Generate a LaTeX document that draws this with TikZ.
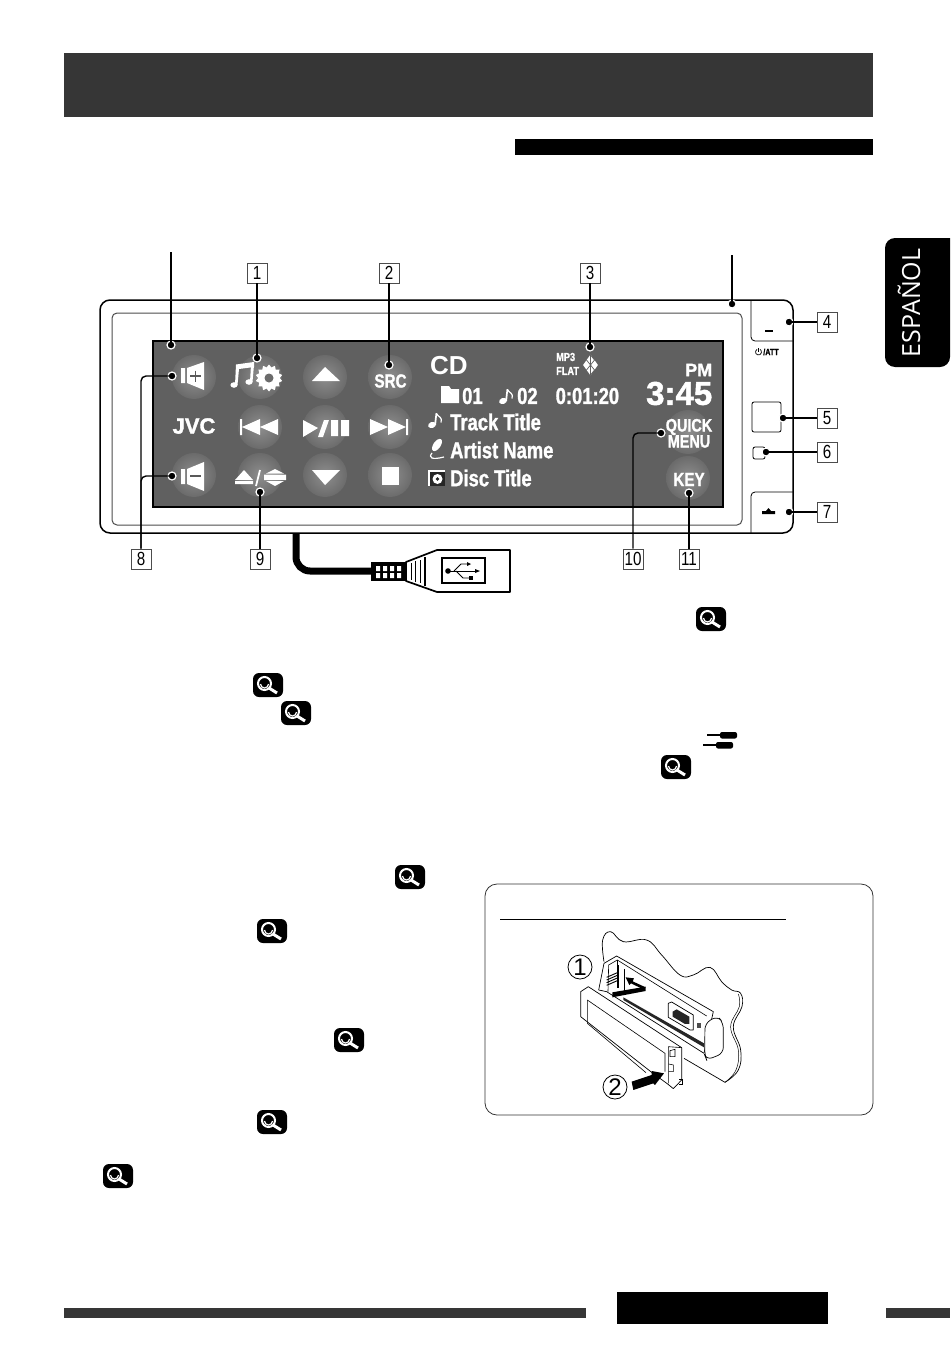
\documentclass[tikz,border=0pt]{standalone}
\usepackage{fontspec}
\setmainfont{Liberation Sans}
\newfontfamily\condfont[FakeStretch=0.8,BoldFeatures={FakeBold=1.2}]{Liberation Sans}
\newfontfamily\heavyfont[BoldFeatures={FakeBold=1.5}]{Liberation Sans}
\newfontfamily\tabfont{Open Sans}
\usetikzlibrary{shapes.misc,shapes.geometric,calc,positioning}
\definecolor{bandgray}{HTML}{363636}
\definecolor{screengray}{HTML}{606060}
\definecolor{btnlight}{HTML}{8E8E8E}
\definecolor{btndark}{HTML}{6B6B6B}
\tikzset{
  numbox/.style={draw=black!70,line width=.6pt,fill=white,minimum size=20pt,inner sep=0pt,font=\condfont\fontsize{19}{19}\selectfont},
  pindot/.style={circle,fill=black,draw=white,line width=1.2pt,minimum size=8pt,inner sep=0pt},
  leader/.style={line width=1.4pt,rounded corners=5pt},
  roundbtn/.style={circle,minimum size=44pt,inner sep=0pt,inner color=btnlight,outer color=btndark},
  screentext/.style={text=white,inner sep=0pt,anchor=west,font=\condfont\bfseries\fontsize{23}{23}\selectfont},
  btntext/.style={text=white,inner sep=0pt,font=\condfont\bfseries\fontsize{19}{19}\selectfont},
  lensicon/.style={fill=black,rounded corners=6pt,minimum width=30pt,minimum height=24pt,inner sep=0pt,
    path picture={
      \coordinate (lensmid) at (path picture bounding box.center);
      \draw [white,line width=3pt] ($(lensmid)+(1,3)$) -- ($(lensmid)+(9,8)$);
      \draw [white,line width=2pt,fill=black] ($(lensmid)+(-3.5,-1.5)$) circle (6.5pt);
      \draw [white,line width=1.2pt] ($(lensmid)+(-7.5,-1)$) arc (180:360:4pt);
    }},
  installbit/.style={line width=.7pt,line join=round,fill=white},
  noteicon/.pic={
    \fill [white,rotate around={20:(0,12)}] (0,12) ellipse (4pt and 3pt);
    \fill [white] (2.2,12) -- (3.6,0) -- (5.2,0) -- (4,12) -- cycle;
    \draw [white,line width=1.2pt] (4.4,0.5) .. controls (6,4) and (11,4) .. (9,9.5);
  },
}
\begin{document}
\begin{tikzpicture}[x=1pt,y=-1pt]
\useasboundingbox (0,0) rectangle (950,1351);
\fill [bandgray] (64,53) rectangle (873,117);
\fill [black] (515,139) rectangle (873,155);
\fill [black,rounded corners=10pt] (885,238) -- (885,367) -- (950,367) [sharp corners] -- (950,238) [rounded corners=10pt] -- cycle;
\node [rotate=90,text=white,inner sep=0pt,font=\tabfont\fontsize{25}{25}\selectfont] (tabText) at (909,303) {ESPAÑOL};
\fill [bandgray] (64,1308) rectangle (586,1318);
\fill [black] (617,1292) rectangle (828,1324);
\fill [bandgray] (886,1308) rectangle (950,1318);

\node [draw,line width=1.5pt,rounded corners=10pt,minimum width=693pt,minimum height=233pt,inner sep=0pt] (panel) at (446.5,416.5) {};
\node [draw=black!70,line width=1pt,rounded corners=5pt,minimum width=630pt,minimum height=212pt,inner sep=0pt] (bezel) at (427,419) {};
\node [draw=black,fill=screengray,line width=1.2pt,minimum width=570pt,minimum height=166pt,inner sep=0pt] (screen) at (438,424) {};
\draw [line width=.8pt,rounded corners=4pt] (751,300) -- (751,341) -- (793,341);
\draw [line width=.8pt,rounded corners=4pt] (793,492) -- (751,492) -- (751,533);
\node [draw,line width=.8pt,rounded corners=2pt,minimum width=29pt,minimum height=30pt,inner sep=0pt] (btnBlank) at (766.5,417) {};
\node [draw,line width=.8pt,rounded corners=2pt,minimum width=12pt,minimum height=12pt,inner sep=0pt] (btnSmall) at (759,453) {};
\fill [black] (765,330) rectangle (773,332);
\node [inner sep=0pt,font=\condfont\bfseries\fontsize{9}{9}\selectfont] (attText) at (771,352) {/ATT};
\draw [line width=.7pt] (757,349.4) arc (120:420:3pt);
\draw [line width=.7pt] (758.5,348) -- (758.5,352);
\fill [black] (762,514) -- (775,514) -- (775,511) -- (771,511) -- (768.5,508) -- (766,511) -- (762,511) -- cycle;

\coordinate (cableTop) at (296,533);
\coordinate (cableEnd) at (372,571);
\draw [line width=7pt,rounded corners=14pt] (cableTop) |- (cableEnd);
\draw [fill=white,line width=1.7pt,line join=round] (406,562) -- (437,550) -- (510,550) -- (510,592) -- (437,592) -- (406,581) -- cycle;
\fill [black] (371,562) rectangle (407,581);
\fill [white] (376,566) rectangle (380,571) (383,566) rectangle (387,571) (390,566) rectangle (394,571) (397,566) rectangle (401,571);
\fill [white] (376,573) rectangle (380,578) (383,573) rectangle (387,578) (390,573) rectangle (394,578) (397,573) rectangle (401,578);
\draw [line width=1pt] (411,563) -- (411,580) (415,561) -- (415,582) (420,560) -- (420,583);
\draw [line width=1.6pt] (425,557) -- (425,586);
\node [draw,line width=1.6pt,minimum width=43pt,minimum height=25pt,inner sep=0pt] (usbBox) at (463.5,570.5) {};
\fill [black] (448,571) circle (2.8pt);
\draw [line width=.8pt] (448,571) -- (476,571);
\fill [black] (475,569) -- (480,571) -- (475,573) -- cycle;
\draw [line width=.8pt] (454,571) -- (461,564) -- (467,564);
\fill [black] (467,562) -- (471,564) -- (467,566) -- cycle;
\draw [line width=.8pt] (456,571) -- (463,578) -- (469,578);
\fill [black] (469,576) rectangle (473,580);

\node [roundbtn] (btnVolUp) at (194,377) {};
\node [roundbtn] (btnMusic) at (260,377) {};
\node [roundbtn] (btnUp) at (325,377) {};
\node [roundbtn] (btnSrc) at (390,377) {};
\node [roundbtn] (btnPrev) at (260,427) {};
\node [roundbtn] (btnPlay) at (325,427) {};
\node [roundbtn] (btnNext) at (390,427) {};
\node [roundbtn] (btnVolDn) at (194,475) {};
\node [roundbtn] (btnEject) at (260,475) {};
\node [roundbtn] (btnDown) at (325,475) {};
\node [roundbtn] (btnStop) at (390,475) {};
\node [roundbtn] (btnQuick) at (688,432) {};
\node [roundbtn] (btnKey) at (688,478) {};

\fill [white] (181,368) rectangle (185,383) (187,368) -- (204,362) -- (204,390) -- (187,383) -- cycle;
\draw [black!65,line width=1.2pt] (190,376) -- (201,376) (195.5,370.5) -- (195.5,381.5);
\fill [white] (181,469) rectangle (185,484) (187,469) -- (204,462) -- (204,491) -- (187,484) -- cycle;
\draw [black!65,line width=1.2pt] (190,476) -- (201,476);
\fill [white] (234,385) ellipse (3.6pt and 2.8pt) (249,382) ellipse (3.6pt and 2.8pt);
\fill [white] (236,364.5) -- (254,362) -- (254,367) -- (239,369) -- (237.5,385) -- (235,385) -- cycle;
\fill [white] (251,365) -- (254,365) -- (252.5,382) -- (250,382) -- cycle;
\node [star,star points=14,star point ratio=1.25,fill=white,minimum size=27pt,inner sep=0pt] (gearMusic) at (269,378) {};
\node [circle,fill=btndark,minimum size=9pt,inner sep=0pt] (gearHole) at (269,378) {};
\fill [white] (312,381) -- (325,367) -- (340,381) -- cycle;
\fill [white] (312,470) -- (325,485) -- (340,470) -- cycle;
\node [btntext] (srcText) at (390.5,381) {SRC};
\fill [white] (240,419) rectangle (242,435) (242,427) -- (260,419) -- (260,435) -- cycle (260,427) -- (278,419) -- (278,435) -- cycle;
\fill [white] (303,420) -- (318,428) -- (303,437) -- cycle (324,420) -- (329,420) -- (323,437) -- (318,437) -- cycle (331,420) rectangle (338,436) (341,420) rectangle (349,436);
\fill [white] (370,419) -- (388,427) -- (370,435) -- cycle (388,419) -- (406,427) -- (388,435) -- cycle (406,419) rectangle (408,435);
\fill [white] (235,480) -- (244,470) -- (253,480) -- cycle (235,481) rectangle (253,484);
\draw [white,line width=1.8pt] (256,486) -- (260,470);
\fill [white] (266,473.5) -- (275,469) -- (284,473.5) -- cycle (264,474.5) rectangle (286,480) (266,481) -- (284,481) -- (275,486) -- cycle;
\fill [white] (382,467) rectangle (399,485);
\node [text=white,inner sep=0pt,font=\heavyfont\bfseries\fontsize{22}{22}\selectfont] (jvcText) at (194,426) {JVC};
\node [btntext,font=\condfont\bfseries\fontsize{18}{18}\selectfont] (quickText) at (689,427) {QUICK};
\node [btntext,font=\condfont\bfseries\fontsize{18}{18}\selectfont] (menuText) at (689,441.5) {MENU};
\node [btntext] (keyText) at (689,479.5) {KEY};

\node [screentext,font=\bfseries\fontsize{26}{26}\selectfont] (cdText) at (430,366) {CD};
\node [screentext,font=\condfont\bfseries\fontsize{11.5}{11.5}\selectfont] (mp3Text) at (556,357) {MP3};
\node [screentext,font=\condfont\bfseries\fontsize{11.5}{11.5}\selectfont] (flatText) at (556,371) {FLAT};
\node [diamond,fill=white,minimum width=15pt,minimum height=21pt,inner sep=0pt] (btDiamond) at (590.5,365) {};
\draw [screengray,line width=.7pt] (586.5,360) -- (594.5,370) -- (590.5,375) -- (590.5,355) -- (594.5,360) -- (586.5,370);
\fill [white] (441,389) rectangle (459,403) (441,389) -- (441,386) -- (449,386) -- (451,389) -- cycle;
\node [screentext] (folderNum) at (462,396) {01};
\pic (noteNum) at (503,389) {noteicon};
\node [screentext] (songNum) at (517,396) {02};
\node [screentext] (timeText) at (555.5,396) {0:01:20};
\node [screentext,font=\heavyfont\fontsize{18}{18}\bfseries\selectfont] (pmText) at (685,370) {PM};
\node [screentext,font=\heavyfont\fontsize{33}{33}\bfseries\selectfont] (clockText) at (646,393.5) {3:45};
\pic (noteTrack) at (432,413) {noteicon};
\node [screentext] (trackText) at (450,422) {Track Title};
\fill [white,rotate around={-35:(437,445)}] (437,445) ellipse (3.6pt and 7pt);
\draw [white,line width=1.2pt] (432,453) .. controls (428,458) and (432,460) .. (444,457);
\node [screentext] (artistText) at (450,450) {Artist Name};
\fill [white] (428,470) rectangle (445,486);
\fill [black!85] (430,472) rectangle (445,486);
\fill [white] (437.5,479) circle (5pt);
\fill [black!85] (437.5,479) circle (1.8pt);
\node [screentext] (discText) at (450,478) {Disc Title};

\node [numbox] (boxOne) at (257,273) {1};
\node [numbox] (boxTwo) at (389,273) {2};
\node [numbox] (boxThree) at (590,273) {3};
\node [numbox] (boxFour) at (827,322) {4};
\node [numbox] (boxFive) at (827,418) {5};
\node [numbox] (boxSix) at (827,452) {6};
\node [numbox] (boxSeven) at (827,512) {7};
\node [numbox] (boxEight) at (141,559) {8};
\node [numbox] (boxNine) at (260,559) {9};
\node [numbox] (boxTen) at (633,559) {10};
\node [numbox] (boxEleven) at (689,559) {11};
\node [pindot] (pinScreen) at (171,345) {};
\node [pindot] (pinPanel) at (732,304) {};
\node [pindot] (pinOne) at (257,358) {};
\node [pindot] (pinTwo) at (389,365) {};
\node [pindot] (pinThree) at (590,347) {};
\node [pindot] (pinFour) at (789,322) {};
\node [pindot] (pinFive) at (783,418) {};
\node [pindot] (pinSix) at (766,452) {};
\node [pindot] (pinSeven) at (789,512) {};
\node [pindot] (pinEightA) at (172,376) {};
\node [pindot] (pinEightB) at (172,476) {};
\node [pindot] (pinNine) at (260,492) {};
\node [pindot] (pinTen) at (661,433) {};
\node [pindot] (pinEleven) at (689,493) {};
\coordinate (leaderScreen) at (171,252);
\coordinate (leaderPanel) at (732,255);
\draw [leader] (leaderScreen) -- (pinScreen.center);
\draw [leader] (leaderPanel) -- (pinPanel.center);
\draw [leader] (boxOne) -- (pinOne.center);
\draw [leader] (boxTwo) -- (pinTwo.center);
\draw [leader] (boxThree) -- (pinThree.center);
\draw [leader] (boxFour) -- (pinFour.center);
\draw [leader] (boxFive) -- (pinFive.center);
\draw [leader] (boxSix) -- (pinSix.center);
\draw [leader] (boxSeven) -- (pinSeven.center);
\draw [leader] (boxEight) |- (pinEightA.center);
\draw [leader] (boxEight) |- (pinEightB.center);
\draw [leader] (boxNine) -- (pinNine.center);
\draw [leader] (boxTen) |- (pinTen.center);
\draw [leader] (boxEleven) -- (pinEleven.center);

\node [lensicon] (lensA) at (711,619) {};
\node [lensicon] (lensB) at (268,685) {};
\node [lensicon] (lensC) at (296,713) {};
\node [lensicon] (lensD) at (676,767) {};
\node [lensicon] (lensE) at (410,877) {};
\node [lensicon] (lensF) at (272,931) {};
\node [lensicon] (lensG) at (349,1040) {};
\node [lensicon] (lensH) at (272,1122) {};
\node [lensicon] (lensI) at (118,1176) {};
\draw [line width=1.4pt] (707,735) -- (720,735);
\fill [black,rounded corners=2pt] (720,732) rectangle (737,738.5);
\draw [line width=1.4pt] (703,745) -- (716,745);
\fill [black,rounded corners=2pt] (716,742) rectangle (733,748.5);

\node [draw=black!80,line width=.8pt,rounded corners=12pt,minimum width=388pt,minimum height=231pt,inner sep=0pt] (installBox) at (679,999.5) {};
\draw [line width=1pt] (500,919) -- (786,919);
\begin{scope}[shift={(480,880)},x=.3333pt,y=-.3333pt]
\draw [line width=.7pt,fill=white] plot [smooth,tension=.7] coordinates {(372,245) (368,180) (392,155) (430,185) (500,180) (545,225) (600,285) (640,285) (690,262) (725,305) (755,330) (782,340) (786,380) (760,440) (782,510) (775,570) (735,607)} -- (612,535);
\draw [line width=.5pt] plot [smooth,tension=.7] coordinates {(775,342) (778,380) (752,440) (775,510) (768,570) (735,607)};
\draw [installbit] (356,330) -- (372,250) -- (410,228) -- (700,395) -- (672,520) -- (380,335) -- cycle;
\draw [line width=.6pt] (384,335) -- (386,255) -- (412,240) -- (680,408);
\draw [line width=.6pt] (412,240) -- (412,325);
\fill [black!85] (430,352) -- (672,490) -- (672,502) -- (430,360) -- cycle;
\draw [line width=.9pt] (415,255) -- (415,325) (432,268) -- (432,335);
\draw [line width=.9pt] (380,292) -- (412,278) (380,300) -- (412,286) (380,308) -- (412,294) (380,316) -- (412,302);
\fill [black] (397,337) -- (497,320) -- (497,333) -- (397,352) -- cycle;
\fill [black] (497,322) -- (458,304) -- (462,295) -- (437,292) -- (448,315) -- (453,310) -- (490,328) -- cycle;
\draw [installbit] (565,370) -- (575,366) -- (640,405) -- (640,450) -- (630,450) -- (565,412) -- cycle;
\fill [black!85] (578,395) -- (590,388) -- (628,410) -- (628,432) -- (615,432) -- (578,410) -- cycle;
\fill [black!70] (650,430) rectangle (664,445);
\draw [installbit,rounded corners=6pt] (675,430) -- (712,408) -- (730,428) -- (730,520) -- (680,540) -- (674,525) -- cycle;
\draw [installbit] (302,335) -- (325,320) -- (605,503) -- (605,600) -- (580,626) -- (563,612) -- (515,577) -- (302,410) -- cycle;
\draw [line width=.6pt] (322,360) -- (555,520) -- (555,575);
\draw [line width=.6pt] (322,360) -- (322,430) -- (498,578);
\draw [line width=.6pt] (565,500) -- (565,610) (565,500) -- (605,503);
\draw [line width=.6pt] (570,512) -- (585,508) -- (585,530) -- (570,530) -- cycle;
\draw [line width=.6pt] (566,552) -- (580,555) -- (580,575) -- (566,575);
\draw [line width=.8pt] (598,598) -- (608,598) -- (608,612) -- (598,612);
\fill [black] (455,605) -- (515,585) -- (515,573) -- (552,580) -- (525,615) -- (520,610) -- (460,630) -- cycle;
\end{scope}
\node [draw,circle,line width=.8pt,minimum size=24pt,inner sep=0pt,font=\fontsize{24}{24}\selectfont] (stepOne) at (580,967) {1};
\node [draw,circle,line width=.8pt,minimum size=24pt,inner sep=0pt,font=\fontsize{24}{24}\selectfont] (stepTwo) at (615,1087) {2};
\end{tikzpicture}
\end{document}
